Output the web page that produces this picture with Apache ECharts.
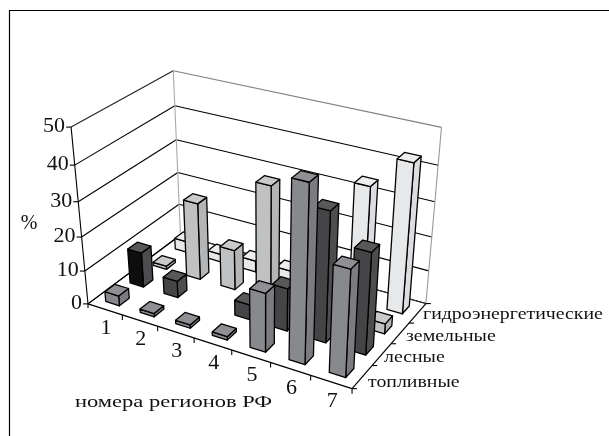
<!DOCTYPE html>
<html><head><meta charset="utf-8">
<style>html,body{margin:0;padding:0;background:#fff}#c{width:609px;height:436px}</style>
<script src="https://cdn.jsdelivr.net/npm/echarts@6/dist/echarts.min.js"></script>
</head><body><div id="c"></div>
<script>
const regions = ['1','2','3','4','5','6','7'];
const resources = ['топливные','лесные','земельные','гидроэнергетические'];
const fuel  = [3, 1, 1, 1, 17, 49, 30];
const forest= [10.5, 5, 0, 4.5, 12.5, 37, 29];
const land  = [1, 23, 12, 33.5, 0, 0, 3];
const hydro = [3.4, 2.4, 3.4, 3.4, 3, 34, 43];
const valueTicks = [0,10,20,30,40,50];
const rows = [fuel, forest, land, hydro];
const palette = [
  {front:'#88898c', side:'#7b7c7f', top:'#8f9093'},
  {front:'#454548', side:'#4d4d50', top:'#58585b'},
  {front:'#c0c1c3', side:'#b4b5b7', top:'#c9cacc'},
  {front:'#e7e8ea', side:'#dcdde0', top:'#eeeef0'}
];
const W=609,H=436;
const calib=[
 [0,0,0,87.7,304],[1,0,0,351.7,389],[1,1,0,426,303],[0,1,0,181,235],
 [0,0,1,71.7,126.7],[0,1,1,172.7,70.7],[1,1,1,441.7,127.7],
 [0,0,.6,78.3,201.7],[0,1,.6,176,140]
];
function solve(A,b){const n=b.length;const M=A.map((r,i)=>[...r,b[i]]);
 for(let i=0;i<n;i++){let p=i;for(let k=i+1;k<n;k++)if(Math.abs(M[k][i])>Math.abs(M[p][i]))p=k;[M[i],M[p]]=[M[p],M[i]];
  for(let k=0;k<n;k++){if(k===i)continue;const f=M[k][i]/M[i][i];for(let j=i;j<=n;j++)M[k][j]-=f*M[i][j];}}
 return M.map((r,i)=>r[n]/r[i]);}
const rowsEq=[],rhs=[];
calib.forEach(([x,y,z,u,v])=>{
 rowsEq.push([x,y,z,1,0,0,0,0,-u*x,-u*y,-u*z]);rhs.push(u);
 rowsEq.push([0,0,0,0,x,y,z,1,-v*x,-v*y,-v*z]);rhs.push(v);});
const ATA=Array.from({length:11},(_,i)=>Array.from({length:11},(_,j)=>rowsEq.reduce((s,r)=>s+r[i]*r[j],0)));
const ATb=Array.from({length:11},(_,i)=>rowsEq.reduce((s,r,k)=>s+r[i]*rhs[k],0));
const m=solve(ATA,ATb);
function P(x,y,z){const w=m[8]*x+m[9]*y+m[10]*z+1;return [(m[0]*x+m[1]*y+m[2]*z+m[3])/w,(m[4]*x+m[5]*y+m[6]*z+m[7])/w];}

const data=[];
for(let j=rows.length-1;j>=0;j--)for(let i=0;i<regions.length;i++)if(rows[j][i]>0)data.push([i,rows[j][i],j]);
const halfX=.2,halfY=.2;
const barStroke={stroke:'#000',lineWidth:1.3,lineJoin:'round'};
function poly(pts,fill){return{type:'polygon',shape:{points:pts},style:{fill:fill,...barStroke}};}
function renderBar(params,api){
 const i=api.value(0),v=api.value(1),j=api.value(2);
 const c0=api.coord([i,0]),c1=api.coord([i,v]);
 const cx=c0[0]/W,z=(c0[1]-c1[1])/H,band=api.size([1,0])[0]/W;
 const dy=1/rows.length,cy=(j+.5)*dy;
 const x0=cx-band*halfX,x1=cx+band*halfX,y0=cy-dy*halfY,y1=cy+dy*halfY;
 const p=palette[j];
 const front=(j===1&&i===0)?'#0e0e10':p.front;
 return{type:'group',children:[
  poly([P(x1,y0,0),P(x1,y1,0),P(x1,y1,z),P(x1,y0,z)],p.side),
  poly([P(x0,y0,0),P(x1,y0,0),P(x1,y0,z),P(x0,y0,z)],front),
  poly([P(x0,y0,z),P(x1,y0,z),P(x1,y1,z),P(x0,y1,z)],p.top)
 ]};
}
function line(a,b,color,lw){return{type:'line',shape:{x1:a[0],y1:a[1],x2:b[0],y2:b[1]},style:{stroke:color,lineWidth:lw||1.1}};}
function label(t,x,y,size,align,sx){return{type:'text',x:x,y:y,scaleX:sx||1,style:{text:t,fill:'#111',font:size+'px "Liberation Serif"',textAlign:align||'center',textVerticalAlign:'middle'}};}
function renderFrame(params,api){
 const ch=[];
 ch.push({type:'polyline',shape:{points:[[609,10.5],[9.5,10.5],[9.5,436]]},style:{stroke:'#000',lineWidth:1.2,fill:null}});
 valueTicks.forEach((t,k)=>{const z=t/50;const col=k===5?'#808080':'#000';
   ch.push(line(P(0,0,z),P(0,1,z),k===5?'#222':'#000'));
   ch.push(line(P(0,1,z),P(1,1,z),col));
   ch.push(line(P(0,0,z),[P(0,0,z)[0]-5,P(0,0,z)[1]],'#000'));
   ch.push(label(String(t),P(0,0,z)[0]-6,P(0,0,z)[1]-.5,22,'right',1));
 });
 ch.push(line(P(0,1,0),P(0,1,1),'#aaa'));
 ch.push(line(P(1,1,0),P(1,1,1),'#999'));
 ch.push(line(P(0,0,0),P(0,0,1),'#000'));
 return{type:'group',children:ch};
}
function renderFloor(params,api){
 const ch=[];
 ch.push(line(P(0,0,0),P(0,1,0),'#000'));
 ch.push(line(P(0,0,0),P(1,0,0),'#000',1.2));
 ch.push(line(P(1,0,0),P(1,1,0),'#000',1.2));
 ch.push(line(P(0,1,0),P(1,1,0),'#333'));
 regions.forEach((r,i)=>{
   const a=P((i+1)/7,0,0);ch.push(line(a,[a[0],a[1]+5],'#000'));
   const b=P((i+.5)/7,0,0);ch.push(label(r,b[0]+1,b[1]+19,22,'center',1));
 });
 ch.push(line(P(0,0,0),[P(0,0,0)[0],P(0,0,0)[1]+4],'#000'));
 resources.forEach((r,j)=>{
   const a=P(1,j/4,0);ch.push(line(a,[a[0]+5,a[1]],'#000'));
 });
 const b=P(1,1,0);ch.push(line(b,[b[0]+5,b[1]],'#000'));
 [[0,368,383],[1,384,358],[2,406,337],[3,423,315]].forEach(([j,x,y])=>ch.push(label(resources[j],x,y,16,'left',1.24)));
 ch.push(label('номера регионов РФ',75,402,17.5,'left',1.285));
 ch.push(label('%',29,224,20,'center',1));
 return{type:'group',children:ch};
}
const chart=echarts.init(document.getElementById('c'),null,{renderer:'canvas',width:W,height:H});
chart.setOption({
 animation:false,backgroundColor:'#fff',
 grid:{left:0,top:0,width:W,height:H},
 xAxis:{type:'category',data:regions,show:false,boundaryGap:true},
 yAxis:{type:'value',min:0,max:50,show:false},
 series:[
  {type:'custom',renderItem:renderFrame,data:[[0,0]],silent:true,clip:false,z:1},
  {type:'custom',renderItem:renderFloor,data:[[0,0]],silent:true,clip:false,z:2},
  {type:'custom',renderItem:renderBar,data:data,encode:{x:0,y:1},silent:true,clip:false,z:3}
 ]
});
</script></body></html>
